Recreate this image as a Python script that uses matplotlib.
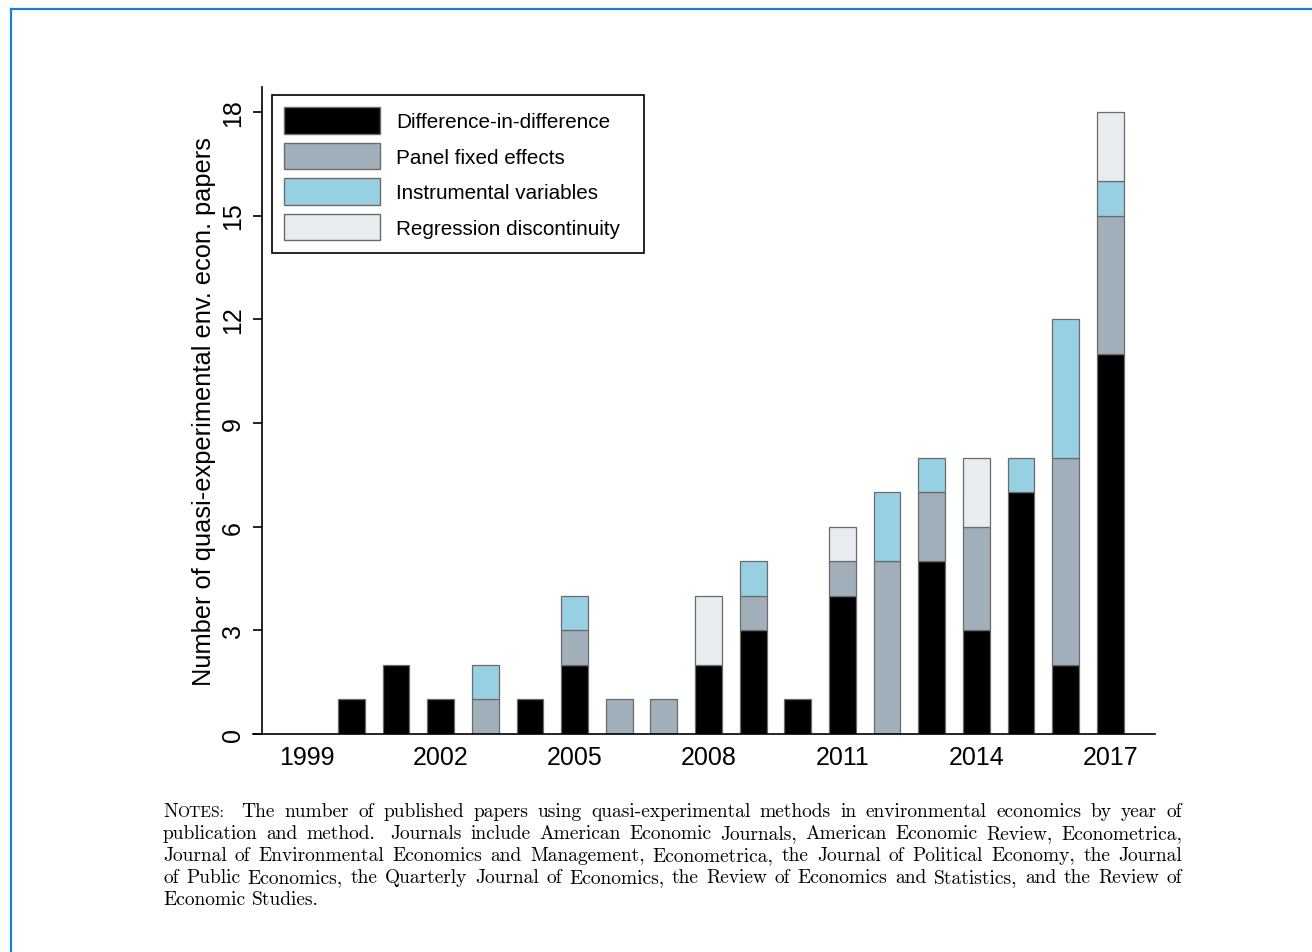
import numpy as np
import matplotlib.pyplot as plt
from matplotlib.lines import Line2D
from matplotlib.patches import Patch

# Data: papers per year by method
years = np.arange(1999, 2018)
did = [0, 1, 2, 1, 0, 1, 2, 0, 0, 2, 3, 1, 4, 0, 5, 3, 7, 2, 11]
pfe = [0, 0, 0, 0, 1, 0, 1, 1, 1, 0, 1, 0, 1, 5, 2, 3, 0, 6, 4]
iv = [0, 0, 0, 0, 1, 0, 1, 0, 0, 0, 1, 0, 0, 2, 1, 0, 1, 4, 1]
rd = [0, 0, 0, 0, 0, 0, 0, 0, 0, 2, 0, 0, 1, 0, 0, 2, 0, 0, 2]

labels = ['Difference-in-difference', 'Panel fixed effects',
          'Instrumental variables', 'Regression discontinuity']
colors = ['#000000', '#a1afba', '#97d0e3', '#e7ecf0']
series = [did, pfe, iv, rd]

notes_lines = [
    "The number of published papers using quasi-experimental methods in environmental economics by year of",
    "publication and method.  Journals include American Economic Journals, American Economic Review, Econometrica,",
    "Journal of Environmental Economics and Management, Econometrica, the Journal of Political Economy, the Journal",
    "of Public Economics, the Quarterly Journal of Economics, the Review of Economics and Statistics, and the Review of",
    "Economic Studies.",
]

W, H = 1312, 953
fig = plt.figure(figsize=(W / 100, H / 100), dpi=100)
ax = fig.add_axes([262 / W, 1 - 735 / H, (1155 - 262) / W, (735 - 88) / H])

sans = 'Liberation Sans'
edge = '#6b6b6b'
bottom = np.zeros(len(years))
for vals, lab, col in zip(series, labels, colors):
    bars = ax.bar(years, vals, width=0.6, bottom=bottom, color=col,
                  edgecolor=edge, linewidth=0.9)
    for p in bars:
        if p.get_height() == 0:
            p.set_visible(False)
    bottom += np.array(vals)

ax.set_xlim(1998, 2018)
ax.set_ylim(0, 18.72)
ax.set_xticks(np.arange(1999, 2018, 3))
ax.set_yticks(np.arange(0, 19, 3))
for s in ['top', 'right']:
    ax.spines[s].set_visible(False)
for s in ['left', 'bottom']:
    ax.spines[s].set_linewidth(1.2)
ax.spines['bottom'].set_bounds(1997.8, 2018)
ax.tick_params(axis='x', length=0, pad=8, labelsize=18)
ax.tick_params(axis='y', length=6.5, width=1.2, pad=6, labelsize=18, labelrotation=90)
for t in ax.get_xticklabels() + ax.get_yticklabels():
    t.set_fontfamily(sans)
for t in ax.get_yticklabels():
    t.set_va('center')
ax.set_ylabel('Number of quasi-experimental env. econ. papers',
              fontsize=18.3, fontfamily=sans, labelpad=3)

handles = [Patch(facecolor=c, edgecolor=edge, linewidth=1.0) for c in colors]
leg_labels = labels[:3] + [labels[3] + '  ']
leg = ax.legend(handles, leg_labels, loc='upper left', bbox_to_anchor=(0.0112, 0.9876),
                borderaxespad=0, fancybox=False, edgecolor='black', framealpha=1,
                prop={'family': sans, 'size': 14.9},
                handlelength=4.6, handleheight=1.57, labelspacing=0.45,
                handletextpad=0.8, borderpad=0.6)
leg.get_frame().set_linewidth(1.2)

# blue frame
blue = '#1c7ed6'
fig.add_artist(Line2D([11 / W, 11 / W], [0, 1 - 10 / H], color=blue, lw=1.6))
fig.add_artist(Line2D([11 / W, 1], [1 - 10 / H, 1 - 10 / H], color=blue, lw=1.6))

# notes, justified
serif = 'cmr10'
fs = 14.0
x0, x1 = 163, 1182
renderer = fig.canvas.get_renderer()
for i, line in enumerate(notes_lines):
    yb = 1 - (817 + i * 21.9) / H
    pieces = []  # one list of text objects per word
    weights = []
    if i == 0:
        t1 = fig.text(0, yb, 'N', fontsize=fs, fontfamily=serif, va='baseline')
        t2 = fig.text(0, yb, 'OTES:', fontsize=fs * 0.8, fontfamily=serif, va='baseline')
        pieces.append([t1, t2])
        weights.append(1.8)
    for w in line.split():
        pieces.append([fig.text(0, yb, w, fontsize=fs, fontfamily=serif, va='baseline')])
        weights.append(1.8 if w.endswith('.') else 1.0)
    widths = [[t.get_window_extent(renderer).width for t in p] for p in pieces]
    total = sum(sum(w) for w in widths)
    wsum = sum(weights[:-1])
    if i < len(notes_lines) - 1:
        gap = (x1 - x0 - total) / wsum
    else:
        gap = 0.333 * fs * 100 / 72
    x = x0
    for p, ws, k in zip(pieces, widths, weights):
        for t, wd in zip(p, ws):
            t.set_x(x / W)
            x += wd
        x += gap * k

fig.savefig('out.png', dpi=100)
